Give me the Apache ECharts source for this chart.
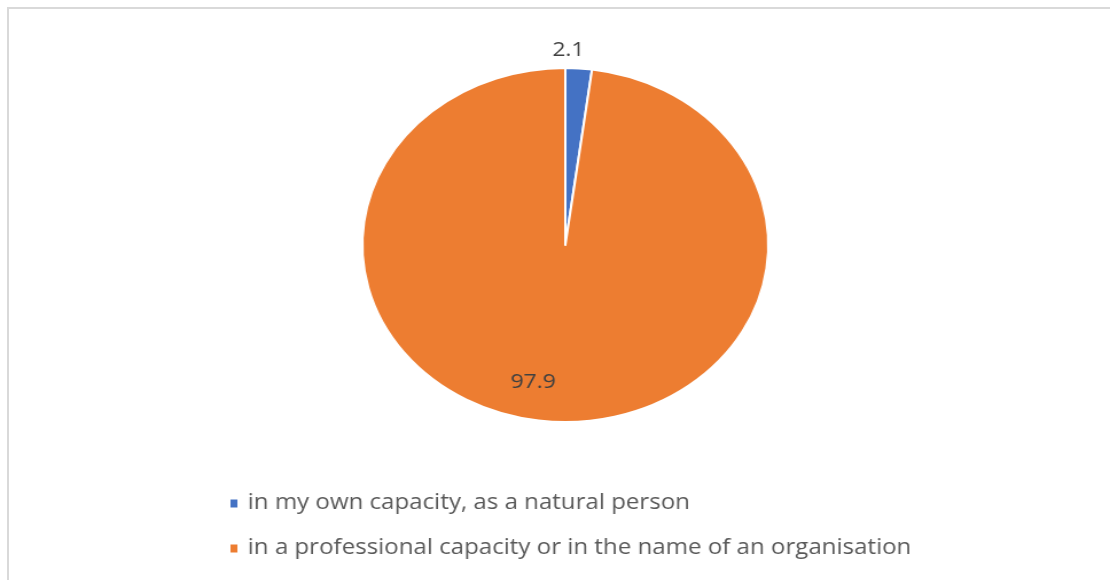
<!DOCTYPE html>
<html>
<head>
<meta charset="utf-8">
<script src="https://cdn.jsdelivr.net/npm/echarts@6/dist/echarts.min.js"></script>
<style>
  html, body { margin: 0; padding: 0; background: #fff; overflow: hidden; width: 1110px; height: 580px; }
  #frame { position: absolute; left: 7px; top: 7px; width: 1110px; height: 580px;
           border-left: 2px solid #d9d9d9; border-top: 2px solid #d9d9d9; box-sizing: border-box; }
  /* the chart is drawn narrower and widened horizontally, giving the oval pie */
  #chart { position: absolute; left: 0; top: 0; width: 968px; height: 580px;
           transform: scaleX(1.1467); transform-origin: 0 0; }
</style>
</head>
<body>
<div id="frame"></div>
<div id="chart"></div>
<script>
  const categories = [
    'in my own capacity, as a natural person',
    'in a professional capacity or in the name of an organisation'
  ];
  const shares = [2.1, 97.9];
  const colors = ['#4472C4', '#ED7D31'];

  // label nudges per slice (px)
  const labelOffsets = [[-28, -18], [-22, 46]];
  const labelPositions = ['outside', 'inside'];

  const chart = echarts.init(document.getElementById('chart'), null, { renderer: 'canvas' });

  const data = categories.map((name, i) => ({
    name: name,
    value: shares[i],
    itemStyle: { color: colors[i] },
    label: { position: labelPositions[i], offset: labelOffsets[i] }
  }));

  chart.setOption({
    backgroundColor: 'transparent',
    animation: false,
    textStyle: { fontFamily: 'Open Sans, Noto Sans, sans-serif' },
    legend: {
      orient: 'vertical',
      left: 194,
      top: 488,
      padding: 5,
      itemWidth: 8,
      itemHeight: 10,
      itemGap: 24,
      icon: 'rect',
      data: categories,
      textStyle: { color: '#595959', fontSize: 21, padding: [0, 0, 0, 3] }
    },
    series: [{
      type: 'pie',
      center: [493, 245],
      radius: 177,
      startAngle: 90,
      clockwise: true,
      avoidLabelOverlap: false,
      itemStyle: { borderColor: '#fff', borderWidth: 2 },
      label: {
        show: true,
        formatter: p => p.value.toFixed(1),
        color: '#404040',
        fontSize: 20
      },
      labelLine: { show: false, length: 0, length2: 0 },
      emphasis: { disabled: true },
      data: data
    }]
  });
</script>
</body>
</html>
